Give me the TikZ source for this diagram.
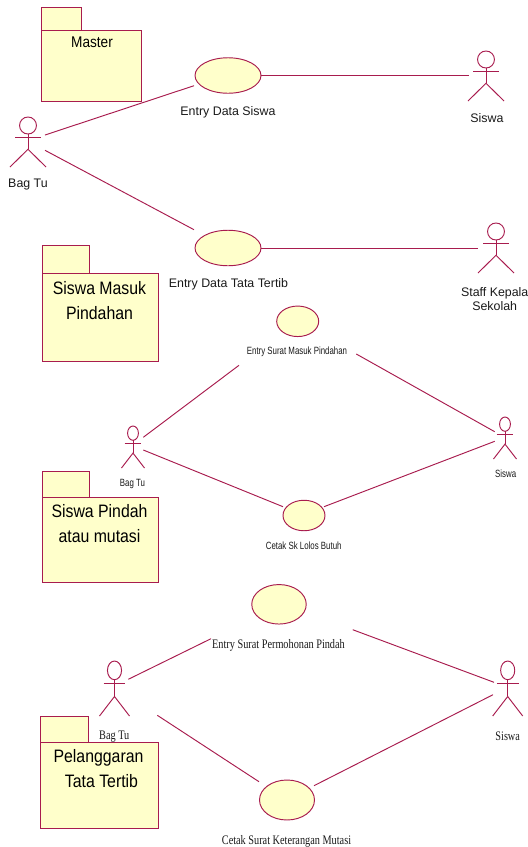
\documentclass[tikz,border=0pt]{standalone}
\usepackage{fontspec}
\setmainfont{Liberation Sans}
\newfontfamily\sansT[FakeStretch=0.88]{Liberation Sans}
\newfontfamily\sansN[FakeStretch=0.75]{Liberation Sans}
\newfontfamily\serifN[FakeStretch=0.79]{Liberation Serif}
\usetikzlibrary{shapes.geometric}
\definecolor{umlline}{HTML}{A81C4E}
\definecolor{umlfill}{HTML}{FFFFCB}
\tikzset{
  umlstroke/.style={draw=umlline,line width=0.95pt},
  usecase/.style={ellipse,umlstroke,fill=umlfill,inner sep=0pt,outer sep=0pt},
  package/.style={umlstroke,fill=umlfill,line join=miter},
  assoc/.style={umlline,line width=0.95pt},
  lblA/.style={inner sep=0pt,text=black!90,font=\fontsize{12.4}{14.5}\selectfont},
  lblB/.style={inner sep=0pt,text=black!90,font=\sansN\fontsize{10.5}{12}\selectfont},
  lblC/.style={inner sep=0pt,text=black!90,font=\serifN\fontsize{13}{14}\selectfont},
  pkgtitle/.style={inner sep=0pt,align=center,text=black,font=\sansT\fontsize{18}{25}\selectfont},
}
\newcommand{\actorfig}[4]{%
  \begin{scope}[shift={(#1,#2)},x=#4pt,y=-#3pt]
    \draw[assoc] (0,.17) ellipse [x radius=.47,y radius=.17];
    \draw[assoc] (0,.34) -- (0,.645);
    \draw[assoc] (-.72,.41) -- (.72,.41);
    \draw[assoc] (-1,1) -- (0,.645) -- (1,1);
  \end{scope}}
\newcommand{\packagefig}[6]{%
  % left, right, tabright, top, bodytop, bottom
  \draw[package] (#1,#5) rectangle (#2,#6);
  \draw[package] (#1,#4) rectangle (#3,#5);}
\begin{document}
\begin{tikzpicture}[x=1pt,y=-1pt]
\useasboundingbox (0,0) rectangle (528,847);
% packages
\packagefig{41.7}{141.7}{81.7}{7.7}{30}{101.3}
\packagefig{42.5}{158.3}{89.3}{245.7}{273}{361}
\packagefig{42}{158.3}{89}{471}{497}{582.7}
\packagefig{40.7}{158.3}{88.3}{716.3}{742.7}{828.3}
\node[pkgtitle,font=\sansT\fontsize{15.5}{16}\selectfont] (pk1) at (92,42.5) {Master};
\node[pkgtitle] (pk2) at (99.5,301) {Siswa Masuk\\Pindahan};
\node[pkgtitle] (pk3) at (99.5,524) {Siswa Pindah\\atau mutasi};
\node[pkgtitle] (pk4) at (98.5,769) {Pelanggaran\\\hspace*{6pt}Tata Tertib};
% use cases
\node[usecase,minimum width=66pt,minimum height=35.5pt] (uc1) at (228,75.5) {};
\node[usecase,minimum width=66pt,minimum height=35.5pt] (uc2) at (228,248) {};
\node[usecase,minimum width=42pt,minimum height=30.5pt] (uc3) at (297.7,321.3) {};
\node[usecase,minimum width=42pt,minimum height=30.5pt] (uc4) at (304,515.5) {};
\node[usecase,minimum width=54.5pt,minimum height=39.5pt] (uc5) at (279,604.3) {};
\node[usecase,minimum width=55pt,minimum height=40pt] (uc6) at (287,800) {};
% actors
\actorfig{28}{117}{50}{18}
\actorfig{486}{51}{50}{18}
\actorfig{496}{223}{50}{18}
\actorfig{133}{426}{42}{11.5}
\actorfig{505}{417}{42}{11.5}
\actorfig{114.5}{661}{55}{15}
\actorfig{507.7}{661}{55}{15}
% labels
\node[lblA] (l1) at (228,112) {Entry Data Siswa};
\node[lblA] (l2) at (228.5,284) {Entry Data Tata Tertib};
\node[lblA] (a1) at (28,184.5) {Bag Tu};
\node[lblA] (a2) at (487,118.5) {Siswa};
\node[lblA,align=center] (a3) at (494.7,299) {Staff Kepala\\Sekolah};
\node[lblB] (l3) at (297,352) {Entry Surat Masuk Pindahan};
\node[lblB] (l4) at (303.7,546) {Cetak Sk Lolos Butuh};
\node[lblB] (a4) at (132.5,483.5) {Bag Tu};
\node[lblB] (a5) at (505.7,474) {Siswa};
\node[lblC] (l5) at (278.5,645.7) {Entry Surat Permohonan Pindah};
\node[lblC] (l6) at (286.5,841) {Cetak Surat Keterangan Mutasi};
\node[lblC] (a6) at (114.3,736.7) {Bag Tu};
\node[lblC] (a7) at (507.7,736.7) {Siswa};
% connector ends
\coordinate (c1a) at (45,135);      \coordinate (c1b) at (194,85.7);
\coordinate (c2a) at (45,150.3);    \coordinate (c2b) at (194,229.7);
\coordinate (c3b) at (468.7,75.5);
\coordinate (c4b) at (478,248);
\coordinate (c5a) at (143.3,437.3); \coordinate (c5b) at (239,365.3);
\coordinate (c6a) at (143.3,450);   \coordinate (c6b) at (283,506.7);
\coordinate (c7a) at (356.3,354);   \coordinate (c7b) at (494.7,431.7);
\coordinate (c8a) at (324,506.7);   \coordinate (c8b) at (494.7,441.3);
\coordinate (c9a) at (128.3,679.3); \coordinate (c9b) at (211,638.7);
\coordinate (c10a) at (157.3,715.3);\coordinate (c10b) at (259,781.7);
\coordinate (c11a) at (352.7,629.7);\coordinate (c11b) at (494,682.3);
\coordinate (c12a) at (314,785.7);  \coordinate (c12b) at (493,694.7);
% connectors
\draw[assoc] (c1a) -- (c1b);
\draw[assoc] (c2a) -- (c2b);
\draw[assoc] (uc1.east) -- (c3b);
\draw[assoc] (uc2.east) -- (c4b);
\draw[assoc] (c5a) -- (c5b);
\draw[assoc] (c6a) -- (c6b);
\draw[assoc] (c7a) -- (c7b);
\draw[assoc] (c8a) -- (c8b);
\draw[assoc] (c9a) -- (c9b);
\draw[assoc] (c10a) -- (c10b);
\draw[assoc] (c11a) -- (c11b);
\draw[assoc] (c12a) -- (c12b);
\end{tikzpicture}
\end{document}
